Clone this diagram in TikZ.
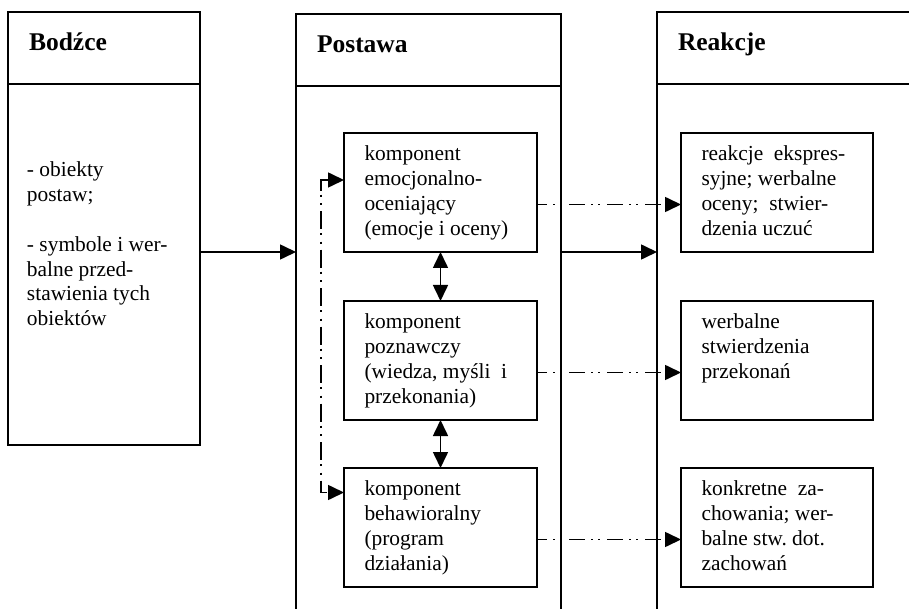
\documentclass[tikz,border=0pt]{standalone}
\usepackage{fontspec}
\setmainfont{Liberation Serif}
\usetikzlibrary{positioning}
\usetikzlibrary{arrows.meta}
\frenchspacing

\newcommand{\boxtxt}[3]{\parbox[c][#1][t]{#2}{\raggedright #3}}

\begin{document}
\begin{tikzpicture}[x=1pt, y=-1pt,
			every node/.style = {font=\fontsize{21.4pt}{24.8pt}\selectfont, outer sep=0pt},
			frame/.style = {draw, line width=1.8pt},
			head/.style = {frame, minimum height=72pt, inner xsep=21pt, inner ysep=0pt,
				align=left, text height=18pt, text depth=12pt,
				font=\fontsize{25.5pt}{30pt}\selectfont\bfseries},
			body/.style = {frame, inner xsep=19pt, inner ysep=78pt},
			comp/.style = {frame, inner xsep=20.5pt, inner ysep=13pt},
			arr/.style = {line width=1.6pt, -{Triangle[length=16pt, width=15pt]}},
			dbl/.style = {line width=1.6pt,
				{Triangle[length=16pt, width=15pt]}-{Triangle[length=16pt, width=15pt]}},
			dd/.style = {arr, dash pattern=on 16pt off 6pt on 2pt off 5pt on 2pt off 7pt, dash phase=6pt},
			fb/.style = {dbl, dash pattern=on 18pt off 4pt on 2pt off 6.5pt on 2pt off 6pt},
			]
		
					\useasboundingbox (0,0) rectangle (909,609);
					
					% three columns
					\node[head, text width=150pt] (bodzceHead) at (104,48) {Bodźce};
					\node[body, below=0pt of bodzceHead] (bodzceBody)
					{\boxtxt{205pt}{154pt}{- obiekty\\ postaw;\\[24.8pt] - symbole i wer-\\ balne przed-\\ stawienia tych\\ obiektów}};
					
					\node[head, text width=223pt] (postawaHead) at (428.5,50) {Postawa};
					\node[frame, minimum width=265pt, minimum height=564pt, below=0pt of postawaHead] (postawaBody) {};
					
					\node[head, text width=223pt] (reakcjeHead) at (789.5,48) {Reakcje};
					\node[frame, minimum width=265pt, minimum height=566pt, below=0pt of reakcjeHead] (reakcjeBody) {};
					
					% components of the attitude
					\node[comp] (emo) at (440.5,192.5)
					{\boxtxt{93pt}{152pt}{komponent\\ emocjonalno-\\ oceniający\\ (emocje i oceny)}};
					\node[comp, below=49pt of emo] (poz)
					{\boxtxt{93pt}{152pt}{komponent\\ poznawczy\\ (wiedza, myśli\ \ i\\ przekonania)}};
					\node[comp, below=48pt of poz] (beh)
					{\boxtxt{93pt}{152pt}{komponent\\ behawioralny\\ (program\\ działania)}};
					
					% reactions
					\node[comp, right=144pt of emo] (reakEmo)
					{\boxtxt{93pt}{151pt}{reakcje\ \ ekspres-\\ syjne; werbalne\\ oceny;\ \ stwier-\\ dzenia uczuć}};
					\node[comp, right=144pt of poz] (reakPoz)
					{\boxtxt{93pt}{151pt}{werbalne\\ stwierdzenia\\ przekonań}};
					\node[comp, right=144pt of beh] (reakBeh)
					{\boxtxt{93pt}{151pt}{konkretne\ \ za-\\ chowania; wer-\\ balne stw. dot.\\ zachowań}};
					
					% connectors
					\draw[arr] (bodzceBody.east |- emo.south) -- (postawaBody.west |- emo.south);
					\draw[arr] (postawaBody.east |- emo.south) -- (reakcjeBody.west |- emo.south);
					\draw[dbl] (emo) -- (poz);
					\draw[dbl] (poz) -- (beh);
					\draw[dd] ([yshift=-12pt]emo.east) -- ([yshift=-12pt]reakEmo.west);
					\draw[dd] ([yshift=-12pt]poz.east) -- ([yshift=-12pt]reakPoz.west);
					\draw[dd] ([yshift=-12pt]beh.east) -- ([yshift=-12pt]reakBeh.west);
					
					\coordinate (fbTop) at ([xshift=-23pt, yshift=12.5pt]emo.west);
					\coordinate (fbBot) at ([xshift=-23pt, yshift=35pt]beh.west);
					\draw[fb] (fbTop -| emo.west) -- (fbTop) -- (fbBot) -- (fbBot -| beh.west);
					
		\end{tikzpicture}
\end{document}
